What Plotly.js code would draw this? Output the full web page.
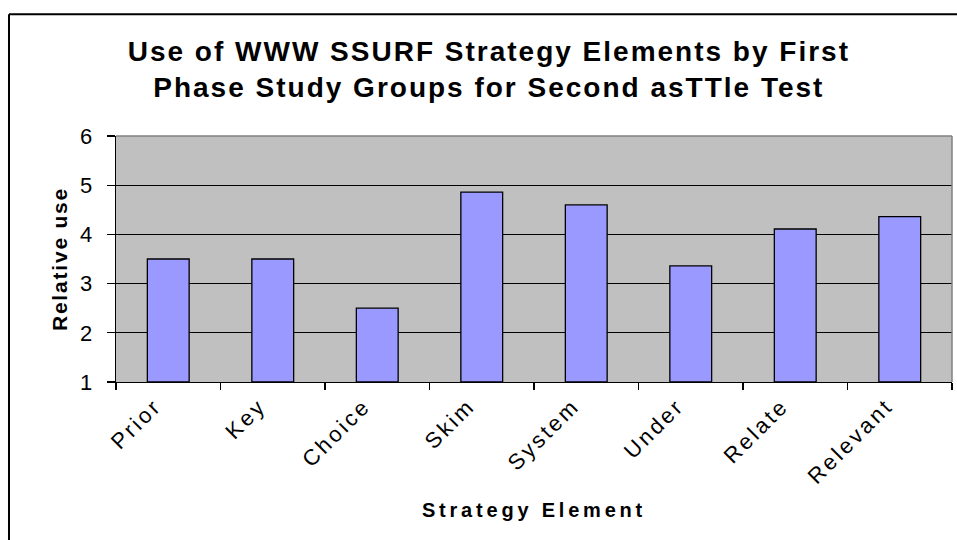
<!DOCTYPE html>
<html>
<head>
<meta charset="utf-8">
<script src="https://cdn.plot.ly/plotly-3.0.1.min.js"></script>
<style>
html, body { margin: 0; padding: 0; background: #ffffff; }
#chart { width: 957px; height: 540px; }
#chart .gtitle { letter-spacing: 2px; }
#chart .xtitle { letter-spacing: 3.8px; }
#chart .ytitle { letter-spacing: 1.8px; }
#chart .xtick text { letter-spacing: 2.9px; }
</style>
</head>
<body>
<div id="chart"></div>
<script>
var categories = ["Prior", "Key", "Choice", "Skim", "System", "Under", "Relate", "Relevant"];
var relativeUse = [3.5, 3.5, 2.5, 4.86, 4.6, 3.36, 4.11, 4.36];
var yTickValues = [1, 2, 3, 4, 5, 6];
var chartTitle = "Use of WWW SSURF Strategy Elements by First<br>Phase Study Groups for Second asTTle Test";
var xTitle = "Strategy Element";
var yTitle = "Relative use";

var baseFont = "Arial, 'Liberation Sans', sans-serif";
var axisFloor = yTickValues[0];

var trace = {
  type: "bar",
  x: categories,
  y: relativeUse.map(function (v) { return v - axisFloor; }),
  base: axisFloor,
  customdata: relativeUse,
  marker: { color: "#9999FF", line: { color: "#000000", width: 1.3 } },
  hovertemplate: "%{x}: %{customdata}<extra></extra>"
};

var layout = {
  width: 957,
  height: 540,
  margin: { l: 116, r: 5, t: 136, b: 158 },
  paper_bgcolor: "#ffffff",
  plot_bgcolor: "#C0C0C0",
  showlegend: false,
  bargap: 0.6,
  font: { family: baseFont, color: "#000000" },
  title: {
    text: chartTitle,
    font: { family: baseFont, size: 28, weight: "bold", color: "#000000" },
    xref: "paper", x: 0.446, xanchor: "center",
    yref: "container", y: 0.887, yanchor: "top"
  },
  xaxis: {
    type: "category",
    tickson: "boundaries",
    ticks: "outside",
    ticklen: 7,
    tickwidth: 1.3,
    tickcolor: "#000000",
    tickangle: -45,
    ticklabelstandoff: 1,
    ticklabelshift: -13,
    tickfont: { family: baseFont, size: 22, color: "#000000" },
    showline: true,
    linecolor: "#000000",
    linewidth: 1.3,
    showgrid: false,
    zeroline: false,
    title: { text: xTitle, font: { family: baseFont, size: 20, weight: "bold" }, standoff: 31 },
    fixedrange: true
  },
  yaxis: {
    range: [1, 6],
    tickvals: yTickValues,
    ticks: "outside",
    ticklen: 8,
    tickwidth: 1.3,
    tickcolor: "#000000",
    ticklabelstandoff: 10,
    tickfont: { family: baseFont, size: 22, color: "#000000" },
    showline: true,
    linecolor: "#000000",
    linewidth: 1.3,
    showgrid: true,
    gridcolor: "#000000",
    gridwidth: 1.3,
    zeroline: false,
    title: { text: yTitle, font: { family: baseFont, size: 21, weight: "bold" }, standoff: 6 },
    fixedrange: true
  },
  shapes: [
    { type: "line", xref: "paper", yref: "paper", x0: 0, x1: 1, y0: 1, y1: 1, line: { color: "#808080", width: 1.5 } },
    { type: "line", xref: "paper", yref: "paper", x0: 1, x1: 1, y0: 0, y1: 1, line: { color: "#808080", width: 1.5 } },
    { type: "line", xref: "paper", yref: "paper", x0: -0.128, x1: 1.03, y0: 1.495, y1: 1.495, line: { color: "#000000", width: 2 }, layer: "above" },
    { type: "line", xref: "paper", yref: "paper", x0: -0.128, x1: -0.128, y0: -0.72, y1: 1.495, line: { color: "#000000", width: 2 }, layer: "above" }
  ]
};

Plotly.newPlot("chart", [trace], layout, { displayModeBar: false, staticPlot: true });
</script>
</body>
</html>
